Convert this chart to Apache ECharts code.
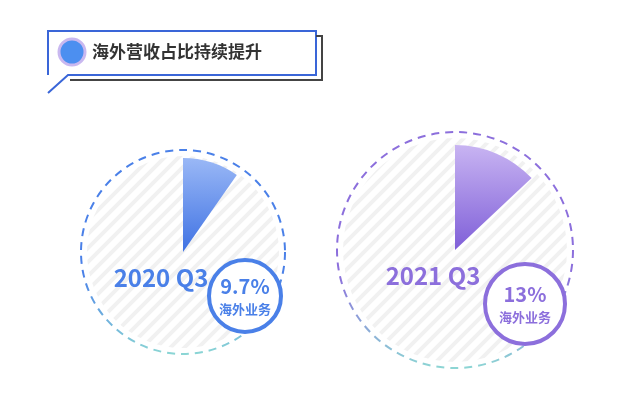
<!DOCTYPE html>
<html><head><meta charset="utf-8">
<script src="https://cdn.jsdelivr.net/npm/echarts@6/dist/echarts.min.js"></script>
<style>html,body{margin:0;background:#fff}#c{width:636px;height:403px}</style>
</head><body><div id="c"></div>
<script>
const title = '海外营收占比持续提升';
const periods = ['2020 Q3', '2021 Q3'];
const shares = [9.7, 13];
const shareLabels = ['9.7%', '13%'];
const segmentName = '海外业务';

const chart = echarts.init(document.getElementById('c'));
const cv = document.createElement('canvas'); cv.width = 14; cv.height = 14;
const g = cv.getContext('2d'); g.strokeStyle = '#f1f1f1'; g.lineWidth = 4;
g.beginPath(); g.moveTo(-2,16); g.lineTo(16,-2); g.moveTo(-9,9); g.lineTo(9,-9); g.moveTo(5,23); g.lineTo(23,5); g.stroke();
const hatch = {image: cv, repeat: 'repeat'};
const F = '"Noto Sans CJK SC", sans-serif';
const cfg = [
  {cx:183, cy:252, R:102, r:94, main:'#4a80e8', light:'#9ab8f6', dark:'#3f72e3', bx:245, by:296, br:36},
  {cx:455, cy:250, R:118, r:105, main:'#8c6fdc', light:'#c8b4f2', dark:'#7f5fd8', bx:525, by:304, br:40}
];
const graphic = [
  {type:'polyline', shape:{points:[[48,75],[48,31],[316,31],[316,75],[68,75],[48,93]]}, style:{stroke:'#3a66d8', lineWidth:2, fill:'#fff'}},
  {type:'polyline', shape:{points:[[316,36],[322,36],[322,80],[70,80]]}, style:{stroke:'#444', lineWidth:2, fill:null}},
  {type:'circle', shape:{cx:72, cy:52, r:13}, style:{fill:'#4c8ff0', stroke:'#c9b8f0', lineWidth:3}},
  {type:'text', style:{x:92, y:52, text:title, font:'bold 17px '+F, fill:'#333', verticalAlign:'middle'}}
];
cfg.forEach((c,i)=>{
  graphic.push({type:'circle', z:-1, shape:{cx:c.cx, cy:c.cy, r:c.R-6}, style:{fill:hatch}});
  graphic.push({type:'circle', shape:{cx:c.cx, cy:c.cy, r:c.R}, style:{fill:null, lineWidth:2, lineDash:[8,6],
    stroke:new echarts.graphic.LinearGradient(0,0,0,1,[{offset:0,color:c.main},{offset:0.6,color:c.main},{offset:1,color:'#8dd8d4'}])}});
  graphic.push({type:'text', z:10, style:{x:c.cx-22, y:c.cy+26, text:periods[i], font:'bold 24px '+F, fill:c.main, align:'center', verticalAlign:'middle'}});
  graphic.push({type:'circle', z:10, shape:{cx:c.bx, cy:c.by, r:c.br}, style:{fill:'#fff', stroke:c.main, lineWidth:4}});
  graphic.push({type:'text', z:11, style:{x:c.bx, y:c.by-10, text:shareLabels[i], font:'bold 20px '+F, fill:c.main, align:'center', verticalAlign:'middle'}});
  graphic.push({type:'text', z:11, style:{x:c.bx, y:c.by+13, text:segmentName, font:'bold 13px '+F, fill:c.main, align:'center', verticalAlign:'middle'}});
});
chart.setOption({
  animation:false,
  graphic: graphic,
  series: cfg.map((c,i)=>({
    type:'pie', center:[c.cx,c.cy], radius:[0,c.r], startAngle:90, clockwise:true,
    label:{show:false}, labelLine:{show:false}, silent:true,
    data:[
      {value:shares[i], itemStyle:{color:new echarts.graphic.LinearGradient(0,0,0,1,[{offset:0,color:c.light},{offset:1,color:c.dark}])}},
      {value:100-shares[i], itemStyle:{color:'transparent'}}
    ]
  }))
});
</script></body></html>
